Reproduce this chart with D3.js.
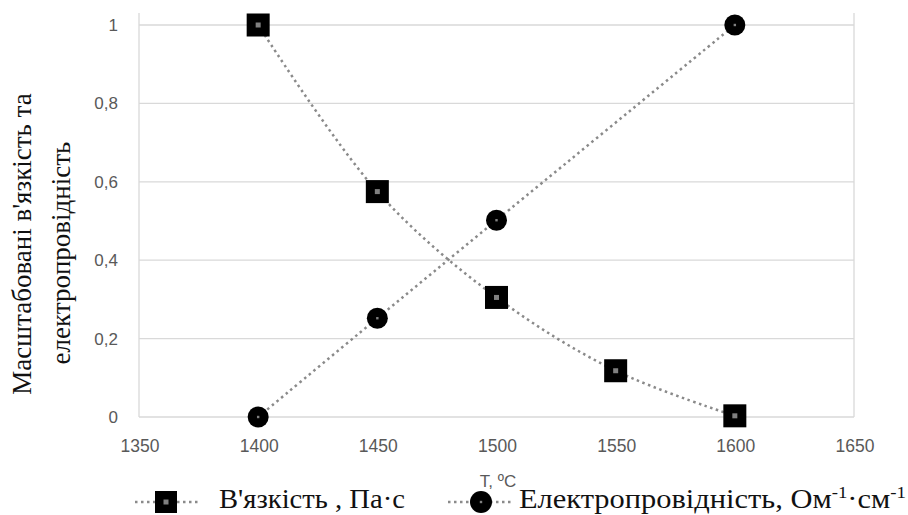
<!DOCTYPE html>
<html>
<head>
<meta charset="utf-8">
<script src="https://cdn.jsdelivr.net/npm/d3@7"></script>
<style>
  html, body { margin: 0; padding: 0; background: #fff; }
  svg { display: block; }
  .serif { font-family: "Liberation Serif", "DejaVu Serif", "Noto Serif", serif; }
  .sans { font-family: "Liberation Sans", Arial, sans-serif; }
</style>
</head>
<body>
<svg id="chart" width="908" height="515"></svg>
<script>
// ---- data ----
const viscT = [1400, 1450, 1500, 1550, 1600];
const viscV = [1.0, 0.575, 0.305, 0.118, 0.003];
const condT = [1400, 1450, 1500, 1600];
const condV = [0.0, 0.252, 0.502, 1.0];
const xTicks = [1350, 1400, 1450, 1500, 1550, 1600, 1650];
const yTicks = [0, 0.2, 0.4, 0.6, 0.8, 1];
const yTitle = ["Масштабовані в'язкість та", "електропровідність"];
const xTitle = "Т, ºС";
const legend1 = "В'язкість , Па·с";

const svg = d3.select("#chart");
const L = 139, R = 854, T = 25, B = 417;
const x = d3.scaleLinear().domain([1350, 1650]).range([L, R]);
const y = d3.scaleLinear().domain([0, 1]).range([B, T]);

const gridCol = "#d9d9d9", tickCol = "#595959", lineCol = "#8a8a8a";

// gridlines
svg.append("g").selectAll("line").data(yTicks).join("line")
  .attr("x1", L).attr("x2", R)
  .attr("y1", d => y(d)).attr("y2", d => y(d))
  .attr("stroke", gridCol).attr("stroke-width", 1.3);
// vertical frame lines
[1350, 1650].forEach(v => {
  svg.append("line").attr("x1", x(v)).attr("x2", x(v))
    .attr("y1", 13).attr("y2", B)
    .attr("stroke", gridCol).attr("stroke-width", 1.3);
});

// y tick labels
svg.append("g").selectAll("text").data(yTicks).join("text")
  .attr("class", "sans")
  .attr("x", 118).attr("y", d => y(d) + 6)
  .attr("text-anchor", "end")
  .attr("font-size", 17).attr("fill", tickCol)
  .text(d => d3.format("")(d).replace(".", ","));

// x tick labels
svg.append("g").selectAll("text").data(xTicks).join("text")
  .attr("class", "sans")
  .attr("x", d => x(d) + 1).attr("y", 452)
  .attr("text-anchor", "middle")
  .attr("font-size", 17.5).attr("fill", tickCol)
  .text(d => d);

// x title
svg.append("text").attr("class", "sans").attr("x", 498).attr("y", 487).attr("text-anchor", "middle")
  .attr("font-size", 17).attr("fill", tickCol)
  .text(xTitle);

// y title
const yt = svg.append("text").attr("class", "serif")
  .attr("transform", "translate(31,247) rotate(-90)")
  .attr("text-anchor", "middle")
  .attr("font-size", 27).attr("fill", "#111");
yt.append("tspan").attr("x", 3).attr("dy", 0).text(yTitle[0]);
yt.append("tspan").attr("x", -6).attr("dy", 39).text(yTitle[1]);

// lines
const line = d3.line().x(d => x(d[0])).y(d => y(d[1])).curve(d3.curveCatmullRom.alpha(0.5));
const viscData = viscT.map((t, i) => [t, viscV[i]]);
const condData = condT.map((t, i) => [t, condV[i]]);
[viscData, condData].forEach(dat => {
  svg.append("path").datum(dat).attr("d", line)
    .attr("fill", "none").attr("stroke", lineCol)
    .attr("stroke-width", 2.5).attr("stroke-dasharray", "2.5,3.5");
});

// markers
function square(g, cx, cy, s) {
  g.append("rect").attr("x", cx - s / 2).attr("y", cy - s / 2).attr("width", s).attr("height", s).attr("fill", "#000");
  g.append("rect").attr("x", cx - 2.5).attr("y", cy - 2.5).attr("width", 5).attr("height", 5).attr("fill", "#808080");
}
function circle(g, cx, cy, r) {
  g.append("circle").attr("cx", cx).attr("cy", cy).attr("r", r).attr("fill", "#000");
  g.append("rect").attr("x", cx - 1.2).attr("y", cy - 1.2).attr("width", 2.4).attr("height", 2.4).attr("fill", "#808080");
}
const mg = svg.append("g");
viscData.forEach(d => square(mg, x(d[0]), y(d[1]), 23));
condData.forEach(d => circle(mg, x(d[0]), y(d[1]), 10.5));

// legend
function fitText(sel, x0, target) {
  const w = sel.node().getComputedTextLength();
  sel.attr("x", 0).attr("transform", `translate(${x0},0) scale(${target / w},1)`);
}
const lg = svg.append("g");
lg.append("line").attr("x1", 135).attr("x2", 200).attr("y1", 502).attr("y2", 502)
  .attr("stroke", lineCol).attr("stroke-width", 2.5).attr("stroke-dasharray", "2.5,3.5");
square(lg, 166, 502, 22);
const t1 = lg.append("text").attr("class", "serif").attr("y", 508)
  .attr("font-size", 27.5).attr("fill", "#111").text(legend1);
fitText(t1, 219, 186);

lg.append("line").attr("x1", 448).attr("x2", 512).attr("y1", 502).attr("y2", 502)
  .attr("stroke", lineCol).attr("stroke-width", 2.5).attr("stroke-dasharray", "2.5,3.5");
circle(lg, 481, 502, 11);
const t2 = lg.append("text").attr("class", "serif").attr("y", 508)
  .attr("font-size", 27.5).attr("fill", "#111");
t2.append("tspan").text("Електропровідність, Ом");
t2.append("tspan").attr("dy", -10).attr("font-size", 17).text("-1");
t2.append("tspan").attr("dy", 10).text("·см");
t2.append("tspan").attr("dy", -10).attr("font-size", 17).text("-1");
fitText(t2, 519, 387);
</script>
</body>
</html>
